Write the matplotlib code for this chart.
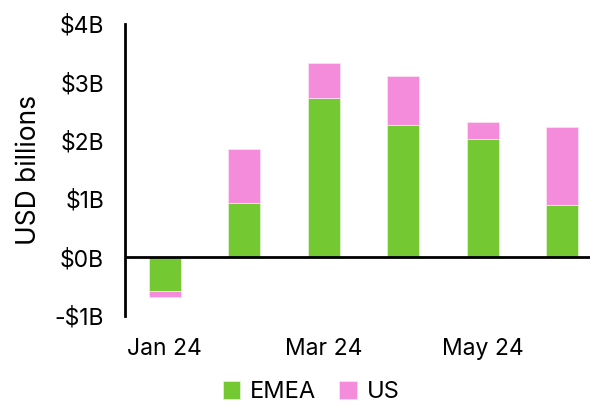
import matplotlib
matplotlib.use("Agg")
import matplotlib.pyplot as plt
import numpy as np

# monthly flows, USD billions
months = ["Jan 24", "Feb 24", "Mar 24", "Apr 24", "May 24", "Jun 24"]
emea = [-0.58, 0.93, 2.73, 2.27, 2.03, 0.90]
us = [-0.10, 0.92, 0.61, 0.84, 0.29, 1.34]

yticks = [-1, 0, 1, 2, 3, 4]
ytick_labels = ["-$1B", "$0B", "$1B", "$2B", "$3B", "$4B"]

green = "#74C832"
pink = "#F48CDB"

plt.rcParams["font.family"] = ["Inter", "DejaVu Sans"]

fig = plt.figure(figsize=(5.9, 4.07), dpi=100)
ax = fig.add_axes([0.212, 0.224, 0.788, 0.717])

x = np.arange(len(months))
emea = np.array(emea)
us = np.array(us)
# negative US stacks below negative EMEA, positive stacks on top
us_bottom = np.where((us < 0) & (emea < 0), emea, np.where(us >= 0, np.maximum(emea, 0), 0))

ax.bar(x, emea, width=0.4, color=green, edgecolor="#dff2cf", linewidth=0.6, label="EMEA", zorder=2)
ax.bar(x, us, width=0.4, bottom=us_bottom, color=pink, edgecolor="#fbe0f4", linewidth=0.6, label="US", zorder=2)

ax.axhline(0, color="black", linewidth=2, zorder=3)

ax.set_xlim(-0.5, 5.35)
ax.set_ylim(-1, 4)
ax.set_yticks(yticks)
ax.set_yticklabels(ytick_labels, fontsize=16.5)
ax.set_xticks(x[::2])
ax.set_xticklabels(months[::2], fontsize=16.5)
ax.tick_params(axis="both", length=0)
ax.tick_params(axis="y", pad=15)
ax.tick_params(axis="x", pad=16)

for side in ["top", "right", "bottom"]:
    ax.spines[side].set_visible(False)
ax.spines["left"].set_linewidth(2)

ax.set_ylabel("USD billions", fontsize=19, labelpad=9)

fig.legend(loc="center", bbox_to_anchor=(0.527, 0.036), ncol=2, frameon=False,
           fontsize=17, handlelength=0.75, handleheight=0.75, handletextpad=0.4,
           columnspacing=1.0, borderaxespad=0, borderpad=0)

fig.savefig("out.png", dpi=100)
